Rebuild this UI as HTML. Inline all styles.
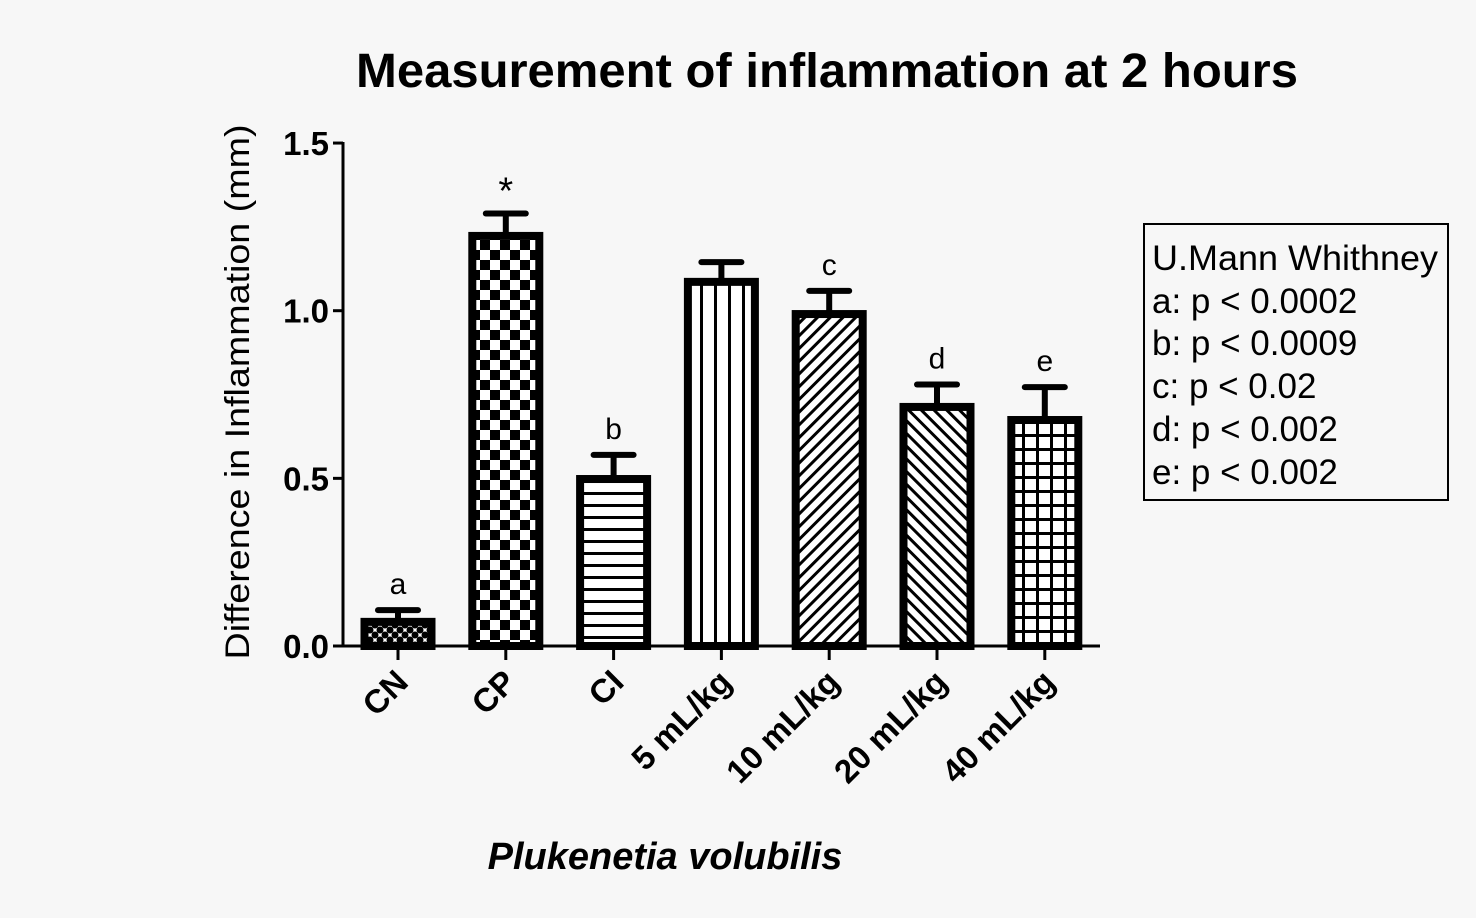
<!DOCTYPE html>
<html><head><meta charset="utf-8"><style>
html,body{margin:0;padding:0;background:#f7f7f7;}
svg{display:block;font-family:"Liberation Sans",Arial,sans-serif;}
</style></head><body>
<svg id="chart" width="1476" height="918" viewBox="0 0 1476 918" xmlns="http://www.w3.org/2000/svg">
<defs>
<pattern id="p0" patternUnits="userSpaceOnUse" width="10" height="10"><rect width="10" height="10" fill="#fff"/><circle cx="5" cy="5" r="3.5" fill="#000"/><circle cx="0" cy="0" r="3.5" fill="#000"/><circle cx="10" cy="0" r="3.5" fill="#000"/><circle cx="0" cy="10" r="3.5" fill="#000"/><circle cx="10" cy="10" r="3.5" fill="#000"/></pattern>
<pattern id="p1" patternUnits="userSpaceOnUse" width="20" height="20"><rect width="20" height="20" fill="#fff"/><rect width="10" height="10" fill="#000"/><rect x="10" y="10" width="10" height="10" fill="#000"/></pattern>
<pattern id="p2" patternUnits="userSpaceOnUse" width="10" height="12"><rect width="10" height="12" fill="#fff"/><rect y="0" width="10" height="3" fill="#000"/></pattern>
<pattern id="p3" patternUnits="userSpaceOnUse" width="14" height="10"><rect width="14" height="10" fill="#fff"/><rect x="0" width="3" height="10" fill="#000"/></pattern>
<pattern id="p4" patternUnits="userSpaceOnUse" width="9" height="9" patternTransform="rotate(45)"><rect width="9" height="9" fill="#fff"/><rect width="3" height="9" fill="#000"/></pattern>
<pattern id="p5" patternUnits="userSpaceOnUse" width="9" height="9" patternTransform="rotate(-45)"><rect width="9" height="9" fill="#fff"/><rect width="3" height="9" fill="#000"/></pattern>
<pattern id="p6" patternUnits="userSpaceOnUse" width="14" height="14"><rect width="14" height="14" fill="#fff"/><rect width="3" height="14" fill="#000"/><rect width="14" height="3" fill="#000"/></pattern>
</defs>
<text x="827" y="87" text-anchor="middle" font-size="48" font-weight="bold" textLength="942" lengthAdjust="spacingAndGlyphs">Measurement of inflammation at 2 hours</text>
<text transform="translate(249,392) rotate(-90)" text-anchor="middle" font-size="34" textLength="535" lengthAdjust="spacingAndGlyphs">Difference in Inflammation (mm)</text>
<text x="665" y="869" text-anchor="middle" font-size="38" font-weight="bold" font-style="italic">Plukenetia volubilis</text>
<g id="axes"></g>
<g id="bars"></g>
<g>
<rect x="1144" y="224" width="304" height="276" fill="none" stroke="#000" stroke-width="2"/>
<g font-size="35">
<text x="1152" y="270" textLength="286" lengthAdjust="spacingAndGlyphs">U.Mann Whithney</text>
<text x="1152" y="313">a: p &lt; 0.0002</text>
<text x="1152" y="355">b: p &lt; 0.0009</text>
<text x="1152" y="398">c: p &lt; 0.02</text>
<text x="1152" y="441">d: p &lt; 0.002</text>
<text x="1152" y="484">e: p &lt; 0.002</text>
</g></g>
</svg>
<script>
const categories = ["CN","CP","CI","5 mL/kg","10 mL/kg","20 mL/kg","40 mL/kg"];
const means = [0.072, 1.223, 0.498, 1.086, 0.990, 0.713, 0.674];
const errors = [0.035, 0.067, 0.072, 0.059, 0.069, 0.067, 0.098];
const sigLabels = ["a","*","b","","c","d","e"];
const yTicks = [0, 0.5, 1.0, 1.5];
const yTickLabels = ["0.0","0.5","1.0","1.5"];
const NS="http://www.w3.org/2000/svg";
const x0=343, x1=1100, firstC=398, step=107.8, bw=67;
function y(v){return 646 - v*335.3;}
function xc(i){return firstC + i*step;}
function mk(tag,attrs,parent){const e=document.createElementNS(NS,tag);for(const k in attrs)e.setAttribute(k,attrs[k]);parent.appendChild(e);return e;}
const axes=document.getElementById('axes'), bars=document.getElementById('bars');
let e=mk('line',{x1:x0,y1:y(0),x2:x1,y2:y(0),stroke:'#000','stroke-width':3},axes);


e=mk('line',{x1:x0,y1:y(1.5)-1,x2:x0,y2:y(0)+1,stroke:'#000','stroke-width':3},axes);


yTicks.forEach((t,i)=>{
  mk('line',{x1:x0-10,y1:y(t),x2:x0,y2:y(t),stroke:'#000','stroke-width':3},axes);
  const tx=mk('text',{x:x0-14,y:y(t)+12,'text-anchor':'end','font-size':33,'font-weight':'bold'},axes);
  tx.textContent=yTickLabels[i];
  
  
});
categories.forEach((c,i)=>{
  const cx=xc(i);
  mk('line',{x1:cx,y1:y(0),x2:cx,y2:y(0)+14,stroke:'#000','stroke-width':3},axes);
  const lt=mk('text',{transform:`translate(${cx+12},${y(0)+38}) rotate(-45)`,'text-anchor':'end','font-size':33,'font-weight':'bold'},axes);
  lt.textContent=c;
  
  
  const top=y(means[i]), et=y(means[i]+errors[i]);
  const ln=mk('line',{x1:cx,y1:et,x2:cx,y2:top,stroke:'#000','stroke-width':6},bars);
  
  
  mk('line',{x1:cx-20,y1:et,x2:cx+20,y2:et,stroke:'#000','stroke-width':6,'stroke-linecap':'round'},bars);
  const r=mk('rect',{x:cx-bw/2,y:top,width:bw,height:y(0)-top,fill:`url(#p${i})`,stroke:'#000','stroke-width':8},bars);
  
  
  if(sigLabels[i]){
    const s=mk('text',{x:cx,y:et-(sigLabels[i]==='*'?10:16),'text-anchor':'middle','font-size':sigLabels[i]==='*'?38:30},bars);
    s.textContent=sigLabels[i];
    
    
  }
});
</script>
</body></html>
